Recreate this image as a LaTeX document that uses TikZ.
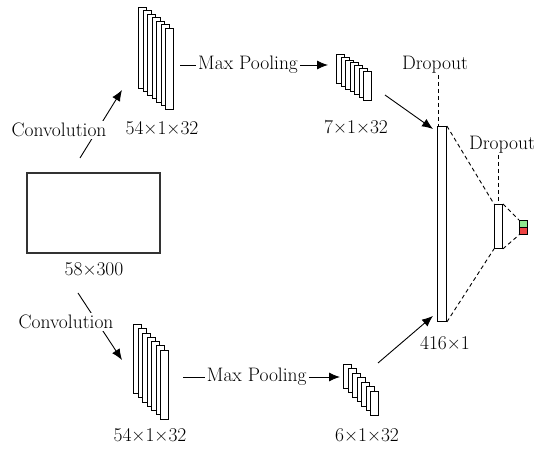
\documentclass[tikz,border=0pt]{standalone}
\usepackage{fontspec}
\usetikzlibrary{arrows.meta,calc}
\definecolor{outgreen}{HTML}{8EE68E}
\definecolor{outred}{HTML}{EE4444}

\begin{document}
\begin{tikzpicture}[
  x=1pt, y=-1pt, font=\fontsize{19.5}{23}\selectfont,
  sheet/.style={draw, fill=white, line width=0.8pt, inner sep=0pt,
                minimum width=8pt, anchor=north west},
  col/.style={draw, fill=white, line width=0.9pt, inner sep=0pt, anchor=north west},
  lab/.style={inner sep=1pt},
  cut/.style={fill=white, inner sep=2pt},
  arr/.style={-{Latex[length=11pt,width=9pt]}, line width=0.9pt},
  drop/.style={dash pattern=on 4pt off 3pt, line width=0.9pt},
]
\useasboundingbox (0,0) rectangle (539,449);
% ---------------- input -----------------
\node[draw=black!80, line width=1.3pt, minimum width=133pt, minimum height=80pt,
      inner sep=0pt] (inp) at (93.5,213) {};
\node[lab] (inplab) at (94,269) {58×300};
% ---------------- upper branch -----------------
\foreach \i in {0,...,6}
  \node[sheet, minimum height=81pt] (cvA\i) at (138+\i*4.5, 7+\i*3.5) {};
\node[lab] (cvAlab) at (162,128) {54×1×32};
\foreach \i in {0,...,6}
  \node[sheet, minimum height=29pt] (plA\i) at (336+\i*4.5, 54+\i*2.8) {};
\node[lab] (plAlab) at (356,127) {7×1×32};
% ---------------- lower branch -----------------
\foreach \i in {0,...,6}
  \node[sheet, minimum height=69pt] (cvB\i) at (133+\i*4.5, 324+\i*4.3) {};
\node[lab] (cvBlab) at (150,435) {54×1×32};
\foreach \i in {0,...,6}
  \node[sheet, minimum height=24pt] (plB\i) at (343+\i*4.5, 364+\i*4.5) {};
\node[lab] (plBlab) at (367,435) {6×1×32};
% ---------------- dense part -----------------
\node[col, minimum width=9pt, minimum height=195pt] (dense) at (437,126) {};
\node[lab] (denselab) at (445,343) {416×1};
\node[col, minimum width=8pt, minimum height=44pt] (fc) at (494,204) {};
\node[col, fill=outgreen, minimum width=8pt, minimum height=7pt] (outg) at (519,220) {};
\node[col, fill=outred, minimum width=8pt, minimum height=7pt] (outr) at (519,227) {};
\node[lab] (dropA) at (435,65) {Dropout};
\node[lab] (dropB) at (502,145) {Dropout};
% ---------------- connectors -----------------
\coordinate (cAs) at (80,158);
\coordinate (cAe) at (122,90);
\coordinate (cBs) at (78,293);
\coordinate (cBe) at (122,360);
\draw[arr] (cAs) -- (cAe);
\draw[arr] (cBs) -- (cBe);
\node[cut] (convA) at (59,130) {Convolution};
\node[cut] (convB) at (66,322) {Convolution};

\coordinate (mAs) at (180,65);
\coordinate (mAe) at (328,65);
\coordinate (mBs) at (183,377);
\coordinate (mBe) at (340,377);
\draw[arr] (mAs) -- node[cut, pos=0.46] (mpA) {Max Pooling} (mAe);
\draw[arr] (mBs) -- node[cut, pos=0.47] (mpB) {Max Pooling} (mBe);

\coordinate (fAs) at (385,95);
\coordinate (fBs) at (378,363);
\draw[arr] (fAs) -- ([xshift=-4pt,yshift=-3pt]dense.north west);
\draw[arr] (fBs) -- ([xshift=-4pt,yshift=6pt]dense.south west);

\draw[drop] (dropA.south -| 438,0) -- (dense.north west -| 438,0);
\draw[drop] (dropB.south -| fc.north) -- (fc.north);
\draw[drop] (dense.north east) -- (fc.north west);
\draw[drop] (dense.south east) -- (fc.south west);
\draw[drop] (fc.north east) -- (outg.north west);
\draw[drop] (fc.south east) -- (outr.south west);
\end{tikzpicture}
\end{document}
